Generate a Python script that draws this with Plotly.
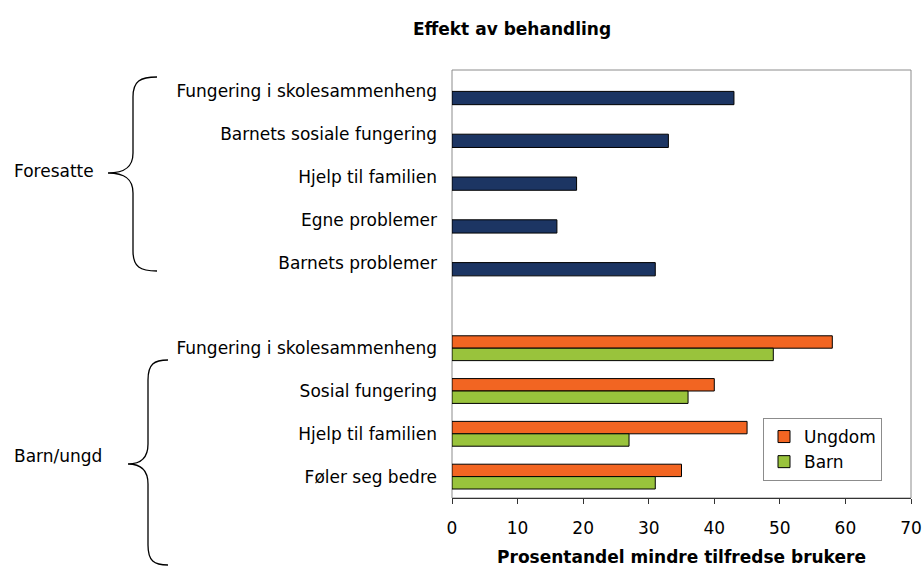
import plotly.graph_objects as go

# Parents' answers (single series)
foresatte_labels = [
    "Fungering i skolesammenheng",
    "Barnets sosiale fungering",
    "Hjelp til familien",
    "Egne problemer",
    "Barnets problemer",
]
foresatte_values = [43, 33, 19, 16, 31]

# Children / youth answers (two series)
barn_labels = [
    "Fungering i skolesammenheng",
    "Sosial fungering",
    "Hjelp til familien",
    "Føler seg bedre",
]
ungdom_values = [58, 40, 45, 35]
barn_values = [49, 36, 27, 31]

x_ticks = [0, 10, 20, 30, 40, 50, 60, 70]

W, H = 923, 567
ML, MR, MT, MB = 452, 12, 70, 69
PW, PH = W - ML - MR, H - MT - MB

FONT = "DejaVu Sans"
NAVY = "#1c3563"
ORANGE = "#f26522"
GREEN = "#99c33c"


def px(x, y):
    """Pixel position -> paper coordinates."""
    return (x - ML) / PW, (MT + PH - y) / PH


# category slots: parents first, one empty slot, then children/youth
pos_f = list(range(len(foresatte_labels)))
pos_b = [len(foresatte_labels) + 1 + i for i in range(len(barn_labels))]
n_slots = len(foresatte_labels) + 1 + len(barn_labels)

BW = 0.29

fig = go.Figure()
fig.add_trace(go.Bar(
    y=pos_f, x=foresatte_values, orientation="h", name="Foresatte",
    width=0.31, offset=0, marker=dict(color=NAVY, line=dict(color="#000", width=1)),
    showlegend=False,
))
fig.add_trace(go.Bar(
    y=pos_b, x=ungdom_values, orientation="h", name="Ungdom",
    width=BW, offset=-BW, marker=dict(color=ORANGE, line=dict(color="#000", width=1)),
))
fig.add_trace(go.Bar(
    y=pos_b, x=barn_values, orientation="h", name="Barn",
    width=BW, offset=0, marker=dict(color=GREEN, line=dict(color="#000", width=1)),
))


def brace(x_end, x_mid, x_tip, y_top, y_tip, y_bot, r=20):
    def p(x, y):
        a, b = px(x, y)
        return f"{a:.5f},{b:.5f}"
    d = x_end - x_mid
    return (
        f"M {p(x_end, y_top)} "
        f"C {p(x_mid + d * 0.3, y_top)} {p(x_mid, y_top + 4)} {p(x_mid, y_top + r)} "
        f"L {p(x_mid, y_tip - r)} "
        f"C {p(x_mid, y_tip - 6)} {p(x_mid - 8, y_tip)} {p(x_tip, y_tip)} "
        f"C {p(x_mid - 8, y_tip)} {p(x_mid, y_tip + 6)} {p(x_mid, y_tip + r)} "
        f"L {p(x_mid, y_bot - r)} "
        f"C {p(x_mid, y_bot - 4)} {p(x_mid + d * 0.3, y_bot)} {p(x_end, y_bot)}"
    )


shapes = [
    dict(type="rect", xref="paper", yref="paper", x0=0, y0=0, x1=1, y1=1,
         line=dict(color="#8c8c8c", width=1), layer="below"),
    dict(type="path", xref="paper", yref="paper",
         path=brace(157, 133, 108, 77, 173, 271), line=dict(color="#000", width=1.3)),
    dict(type="path", xref="paper", yref="paper",
         path=brace(168, 148, 128, 360, 464, 565), line=dict(color="#000", width=1.3)),
]

annotations = []
for text, (xx, yy) in [("Foresatte", (12, 171)), ("Barn/ungd", (12, 456))]:
    a, b = px(xx, yy)
    annotations.append(dict(
        text=text, xref="paper", yref="paper", x=a, y=b,
        xanchor="left", yanchor="middle", showarrow=False,
        font=dict(family=FONT, size=17, color="#000"),
    ))

lx, ly = px(763, 418)

fig.update_layout(
    width=W, height=H,
    margin=dict(l=ML, r=MR, t=MT, b=MB, autoexpand=False),
    paper_bgcolor="white", plot_bgcolor="white",
    barmode="overlay",
    font=dict(family=FONT, size=17, color="#000"),
    title=dict(
        text="<b>Effekt av behandling</b>",
        xref="container", yref="container", x=512 / W, y=1 - 29 / H,
        xanchor="center", yanchor="middle",
        font=dict(family=FONT, size=17, color="#000"),
    ),
    xaxis=dict(
        range=[0, 70], tickvals=x_ticks, ticks="outside", ticklen=5,
        tickcolor="#333", showline=True, linecolor="#333", linewidth=1,
        showgrid=False, zeroline=False, ticklabelstandoff=10, automargin=False,
        tickfont=dict(family=FONT, size=17, color="#000"),
        title=dict(text="<b>Prosentandel mindre tilfredse brukere</b>",
                   font=dict(family=FONT, size=17, color="#000"), standoff=14),
    ),
    yaxis=dict(
        range=[n_slots - 0.5, -0.5],
        tickvals=pos_f + pos_b, ticktext=foresatte_labels + barn_labels,
        ticks="", showline=False, showgrid=False, zeroline=False,
        ticklabelstandoff=14, automargin=False,
        tickfont=dict(family=FONT, size=17, color="#000"),
    ),
    legend=dict(
        x=lx, y=ly, xanchor="left", yanchor="top",
        bordercolor="#8c8c8c", borderwidth=1, bgcolor="white",
        font=dict(family=FONT, size=17, color="#000"),
        traceorder="normal",
    ),
    shapes=shapes,
    annotations=annotations,
)

fig.write_html("out.html")
